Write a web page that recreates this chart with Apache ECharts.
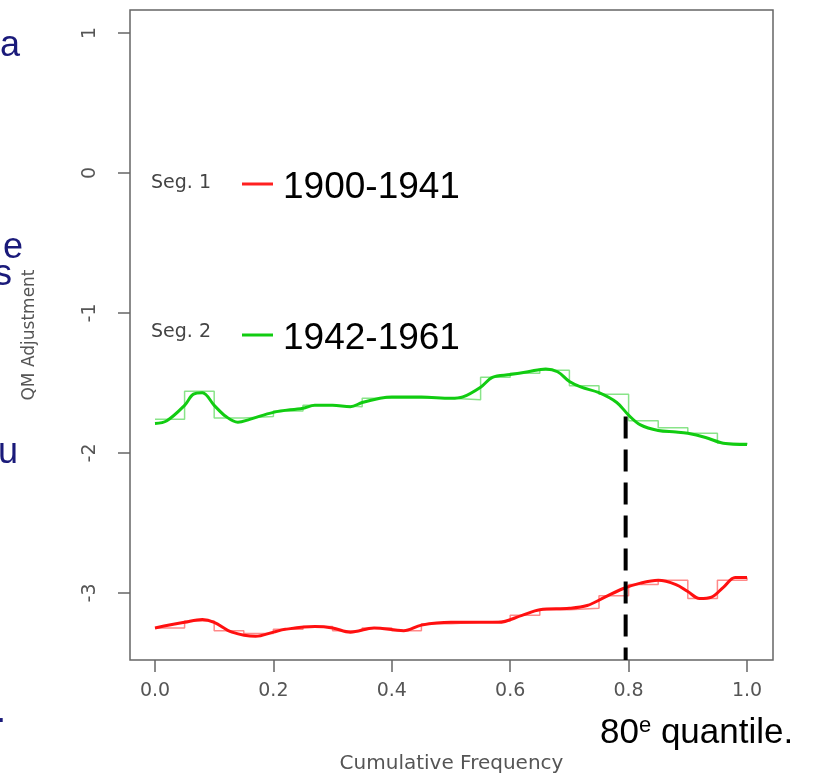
<!DOCTYPE html>
<html>
<head>
<meta charset="utf-8">
<script src="https://cdn.jsdelivr.net/npm/echarts@6/dist/echarts.min.js"></script>
<style>html,body{margin:0;padding:0;background:#fff;}#c{width:817px;height:775px;}</style>
</head>
<body>
<div id="c"></div>
<script>
// Tick labels
const xTicks = [0, 0.2, 0.4, 0.6, 0.8, 1.0];
const yTicks = [-3, -2, -1, 0, 1];

// Segment 2 (1942-1961) step function [x, value]
const seg2Steps = [[0,-1.76],[0.05,-1.56],[0.10,-1.75],[0.15,-1.74],[0.20,-1.70],[0.25,-1.66],[0.30,-1.67],[0.35,-1.61],[0.40,-1.61],[0.45,-1.61],[0.50,-1.62],[0.55,-1.46],[0.60,-1.43],[0.65,-1.41],[0.70,-1.52],[0.75,-1.58],[0.80,-1.77],[0.85,-1.82],[0.90,-1.86],[0.95,-1.93],[1.00,-1.94]];
// Segment 2 smoothed curve
const seg2Smooth = [[0,-1.79],[0.02,-1.77],[0.05,-1.66],[0.065,-1.58],[0.08,-1.57],[0.10,-1.66],[0.12,-1.74],[0.14,-1.78],[0.16,-1.76],[0.20,-1.71],[0.25,-1.68],[0.27,-1.66],[0.30,-1.66],[0.33,-1.67],[0.35,-1.64],[0.38,-1.61],[0.40,-1.60],[0.45,-1.60],[0.50,-1.61],[0.52,-1.60],[0.55,-1.53],[0.57,-1.46],[0.60,-1.44],[0.63,-1.42],[0.66,-1.40],[0.68,-1.42],[0.70,-1.49],[0.72,-1.53],[0.75,-1.57],[0.78,-1.64],[0.80,-1.73],[0.82,-1.80],[0.85,-1.84],[0.88,-1.85],[0.90,-1.86],[0.93,-1.89],[0.96,-1.93],[1.00,-1.94]];

// Segment 1 (1900-1941) step function
const seg1Steps = [[0,-3.25],[0.05,-3.20],[0.10,-3.27],[0.15,-3.29],[0.20,-3.26],[0.25,-3.24],[0.30,-3.27],[0.35,-3.25],[0.40,-3.27],[0.45,-3.22],[0.50,-3.21],[0.55,-3.20],[0.60,-3.16],[0.65,-3.12],[0.70,-3.11],[0.75,-3.02],[0.80,-2.94],[0.85,-2.91],[0.90,-3.04],[0.95,-2.91],[1.00,-2.89]];
// Segment 1 smoothed curve
const seg1Smooth = [[0,-3.25],[0.05,-3.21],[0.08,-3.19],[0.10,-3.21],[0.13,-3.28],[0.17,-3.31],[0.20,-3.28],[0.22,-3.26],[0.27,-3.24],[0.30,-3.25],[0.33,-3.28],[0.37,-3.25],[0.42,-3.27],[0.45,-3.23],[0.50,-3.21],[0.55,-3.21],[0.58,-3.21],[0.62,-3.16],[0.65,-3.12],[0.70,-3.11],[0.73,-3.09],[0.76,-3.03],[0.79,-2.97],[0.82,-2.93],[0.85,-2.91],[0.88,-2.94],[0.90,-2.99],[0.92,-3.04],[0.94,-3.03],[0.96,-2.96],[0.98,-2.89],[1.00,-2.89]];

// 80th quantile marker
const quantileX = 0.795;
const quantileLine = [[quantileX, -1.74], [quantileX, -3.479]];

const chart = echarts.init(document.getElementById('c'), null, {renderer: 'canvas'});
const tickFont = 'DejaVu Sans';
const slideColor = '#1a1a7a';
chart.setOption({
  animation: false,
  backgroundColor: '#fff',
  grid: {left: 130, top: 10, right: 44, bottom: 115, outerBoundsMode: 'none', containLabel: false, show: true, borderColor: '#666', borderWidth: 1.5, backgroundColor: 'transparent'},
  xAxis: {
    type: 'value', min: -0.0422, max: 1.0439,
    axisLine: {show: false, onZero: false},
    splitLine: {show: false},
    axisTick: {show: true, customValues: xTicks, length: 12, lineStyle: {color: '#666', width: 1.5}},
    axisLabel: {customValues: xTicks, formatter: v => v.toFixed(1), fontFamily: tickFont, fontSize: 19, color: '#555', margin: 22},
    name: 'Cumulative Frequency', nameLocation: 'middle', nameGap: 94,
    nameTextStyle: {fontFamily: tickFont, fontSize: 20, color: '#555'}
  },
  yAxis: {
    type: 'value', min: -3.479, max: 1.164,
    axisLine: {show: false, onZero: false},
    splitLine: {show: false},
    axisTick: {show: true, customValues: yTicks, length: 12, lineStyle: {color: '#666', width: 1.5}},
    axisLabel: {customValues: yTicks, formatter: v => String(v), rotate: 90, fontFamily: tickFont, fontSize: 19, color: '#555', margin: 30},
    name: 'QM Adjustment', nameLocation: 'middle', nameGap: 92,
    nameTextStyle: {fontFamily: tickFont, fontSize: 17, color: '#555'}
  },
  series: [
    {type: 'line', data: seg2Steps, step: 'end', showSymbol: false, lineStyle: {color: 'rgba(40,205,40,0.55)', width: 1.5}, z: 1},
    {type: 'line', data: seg1Steps, step: 'end', showSymbol: false, lineStyle: {color: 'rgba(255,40,40,0.55)', width: 1.5}, z: 1},
    {type: 'line', data: seg2Smooth, smooth: 0.35, showSymbol: false, lineStyle: {color: '#11CC11', width: 3}, z: 2},
    {type: 'line', data: seg1Smooth, smooth: 0.35, showSymbol: false, lineStyle: {color: '#FF1010', width: 3}, z: 2},
    {type: 'line', data: quantileLine, showSymbol: false, lineStyle: {color: '#000', width: 4, type: [22, 11]}, z: 3}
  ],
  graphic: [
    {type: 'text', left: 151, top: 174, style: {text: 'Seg. 1', font: '19px "DejaVu Sans"', fill: '#444'}},
    {type: 'line', shape: {x1: 242, y1: 184, x2: 273, y2: 184}, style: {stroke: '#FF2020', lineWidth: 3}},
    {type: 'text', x: 283, y: 188, style: {text: '1900-1941', font: '37px "Liberation Sans"', fill: '#000', verticalAlign: 'middle'}},
    {type: 'text', left: 151, top: 323, style: {text: 'Seg. 2', font: '19px "DejaVu Sans"', fill: '#444'}},
    {type: 'line', shape: {x1: 242, y1: 335, x2: 273, y2: 335}, style: {stroke: '#11CC11', lineWidth: 3}},
    {type: 'text', x: 283, y: 339, style: {text: '1942-1961', font: '37px "Liberation Sans"', fill: '#000', verticalAlign: 'middle'}},
    {type: 'text', x: 600, y: 733, style: {
      text: '{a|80}{b|e}{a| quantile.}', verticalAlign: 'middle',
      rich: {a: {font: '35px "Liberation Sans"', fill: '#000', verticalAlign: 'bottom'}, b: {font: '22px "Liberation Sans"', fill: '#000', verticalAlign: 'top', padding: [0,0,14,0]}}
    }},
    {type: 'text', x: 0, y: 64, style: {text: 'a', font: '36px "Liberation Sans"', fill: slideColor, verticalAlign: 'bottom'}},
    {type: 'text', x: 3, y: 266, style: {text: 'e', font: '36px "Liberation Sans"', fill: slideColor, verticalAlign: 'bottom'}},
    {type: 'text', x: -6, y: 293, style: {text: 's', font: '36px "Liberation Sans"', fill: slideColor, verticalAlign: 'bottom'}},
    {type: 'text', x: -2, y: 471, style: {text: 'u', font: '36px "Liberation Sans"', fill: slideColor, verticalAlign: 'bottom'}},
    {type: 'text', x: -4, y: 730, style: {text: '.', font: '36px "Liberation Sans"', fill: slideColor, verticalAlign: 'bottom'}}
  ]
});
</script>
</body>
</html>
